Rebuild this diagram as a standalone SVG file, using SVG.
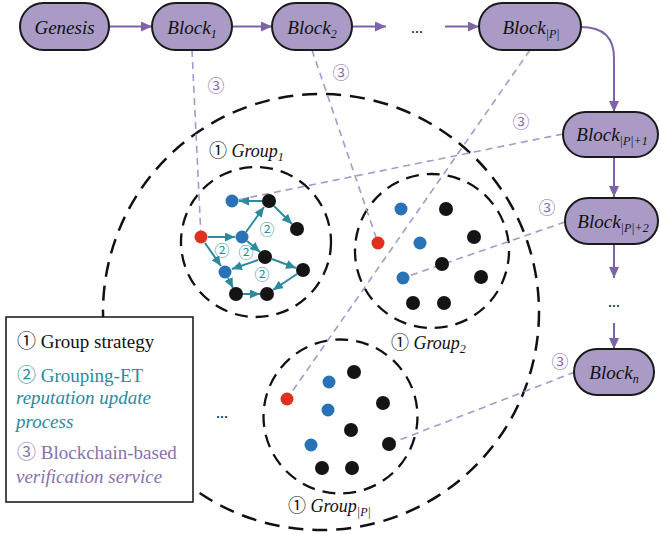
<svg xmlns="http://www.w3.org/2000/svg" width="661" height="534" viewBox="0 0 661 534">
<style>
.pill{fill:#a99bc5;stroke:#1a1a1a;stroke-width:2}
.bl{font-size:19px;fill:#111;text-anchor:middle;font-style:italic}
.sub{font-size:12px}
.pa{stroke:#7e63a8;stroke-width:2;fill:none}
.dash{stroke:#a898cc;stroke-width:1.6;stroke-dasharray:7,5;fill:none}
.big{stroke:#111;stroke-width:2.5;stroke-dasharray:15,9;fill:none}
.grp{stroke:#111;stroke-width:2.3;stroke-dasharray:13,8;fill:none}
.ta{stroke:#2c8a9c;stroke-width:2;fill:none}
.k{fill:#141414}
.b{fill:#2a72b8}
.r{fill:#e0301f}
.c3{font-size:17px;fill:#8a70b0;text-anchor:middle}
.c2{font-size:15px;fill:#2c8a9c;text-anchor:middle}
.gl{font-size:18px;fill:#111}
.lg{font-size:19px}
.dots{font-size:16px;fill:#111;text-anchor:middle}
</style>
<defs>
<marker id="ap" markerUnits="userSpaceOnUse" markerWidth="11" markerHeight="10" refX="11" refY="5" orient="auto"><path d="M0,0 L11,5 L0,10 z" fill="#7e63a8"/></marker>
<marker id="at" markerUnits="userSpaceOnUse" markerWidth="10" markerHeight="9" refX="10" refY="4.5" orient="auto"><path d="M0,0 L10,4.5 L0,9 z" fill="#2c8a9c"/></marker>
</defs>
<g font-family="'Liberation Serif', 'Noto Sans CJK SC', serif">

<g id="outer-circle"><circle class="big" cx="321" cy="312" r="218"/></g>
<g id="group1-circle"><circle class="grp" cx="256" cy="242" r="75"/></g>
<g id="group2-circle"><circle class="grp" cx="432" cy="251" r="77"/></g>
<g id="groupP-circle"><circle class="grp" cx="340.5" cy="416.5" r="77"/></g>

<g id="connectors">
  <line class="pa" x1="109" y1="26.5" x2="152" y2="26.5" marker-end="url(#ap)"/>
  <line class="pa" x1="232" y1="26.5" x2="272" y2="26.5" marker-end="url(#ap)"/>
  <line class="pa" x1="352" y1="26.5" x2="386" y2="26.5" marker-end="url(#ap)"/>
  <line class="pa" x1="445" y1="26.5" x2="479" y2="26.5" marker-end="url(#ap)"/>
  <path class="pa" d="M581,27 Q614,27 614,58 L614,112" marker-end="url(#ap)"/>
  <line class="pa" x1="614" y1="157" x2="614" y2="197" marker-end="url(#ap)"/>
  <line class="pa" x1="614" y1="244" x2="614" y2="278" marker-end="url(#ap)"/>
  <line class="pa" x1="614" y1="323" x2="614" y2="349" marker-end="url(#ap)"/>

  <line class="dash" x1="192" y1="50" x2="201" y2="237"/>
  <line class="dash" x1="312" y1="50" x2="378" y2="243"/>
  <line class="dash" x1="530" y1="50" x2="287" y2="399"/>
  <line class="dash" x1="563" y1="134" x2="232" y2="201"/>
  <line class="dash" x1="565" y1="222" x2="403" y2="278"/>
  <line class="dash" x1="575" y1="372" x2="389" y2="444"/>

  <line class="ta" x1="208" y1="237" x2="235" y2="237" marker-end="url(#at)"/>
  <line class="ta" x1="205" y1="243" x2="221" y2="266" marker-end="url(#at)"/>
  <line class="ta" x1="246" y1="232" x2="264" y2="207" marker-end="url(#at)"/>
  <line class="ta" x1="262" y1="201" x2="239" y2="201" marker-end="url(#at)"/>
  <line class="ta" x1="274" y1="206" x2="292" y2="224" marker-end="url(#at)"/>
  <line class="ta" x1="247" y1="241" x2="260" y2="252" marker-end="url(#at)"/>
  <line class="ta" x1="258" y1="260" x2="232" y2="269" marker-end="url(#at)"/>
  <line class="ta" x1="272" y1="259" x2="296" y2="268" marker-end="url(#at)"/>
  <line class="ta" x1="297" y1="274" x2="273" y2="290" marker-end="url(#at)"/>
  <line class="ta" x1="228" y1="278" x2="233" y2="288" marker-end="url(#at)"/>
  <line class="ta" x1="243" y1="294" x2="260" y2="294" marker-end="url(#at)"/>
</g>

<g id="group1">
  <circle class="b" cx="232" cy="201" r="6.5"/>
  <circle class="k" cx="269" cy="201" r="7"/>
  <circle class="k" cx="297" cy="229" r="7"/>
  <circle class="r" cx="201" cy="237" r="6.5"/>
  <circle class="b" cx="242" cy="237" r="6.5"/>
  <circle class="k" cx="265" cy="257" r="7"/>
  <circle class="b" cx="225" cy="272" r="6.5"/>
  <circle class="k" cx="303" cy="270" r="7"/>
  <circle class="k" cx="236" cy="294" r="7"/>
  <circle class="k" cx="267" cy="294" r="7"/>
  <text class="c2" x="267" y="235">②</text>
  <text class="c2" x="222" y="256">②</text>
  <text class="c2" x="246" y="258">②</text>
  <text class="c2" x="262" y="280">②</text>
  <text class="gl" x="209" y="157">① <tspan font-style="italic">Group<tspan class="sub" dy="4">1</tspan></tspan></text>
</g>

<g id="group2">
  <circle class="b" cx="401" cy="209" r="6.5"/>
  <circle class="k" cx="446" cy="209" r="7"/>
  <circle class="k" cx="474" cy="237" r="7"/>
  <circle class="r" cx="378" cy="243" r="6.5"/>
  <circle class="b" cx="420" cy="243" r="6.5"/>
  <circle class="k" cx="442" cy="264" r="7"/>
  <circle class="b" cx="403" cy="278" r="6.5"/>
  <circle class="k" cx="481" cy="277" r="7"/>
  <circle class="k" cx="413" cy="303" r="7"/>
  <circle class="k" cx="444" cy="303" r="7"/>
  <text class="gl" x="391" y="349">① <tspan font-style="italic">Group<tspan class="sub" dy="4">2</tspan></tspan></text>
</g>

<g id="groupP">
  <circle class="k" cx="354" cy="372" r="7"/>
  <circle class="b" cx="329" cy="382" r="6.5"/>
  <circle class="r" cx="287" cy="399" r="6.5"/>
  <circle class="k" cx="383" cy="403" r="7"/>
  <circle class="b" cx="328" cy="410" r="6.5"/>
  <circle class="k" cx="351" cy="430" r="7"/>
  <circle class="k" cx="389" cy="444" r="7"/>
  <circle class="b" cx="311" cy="445" r="6.5"/>
  <circle class="k" cx="322" cy="468" r="7"/>
  <circle class="k" cx="352" cy="468" r="7"/>
  <text class="gl" x="288" y="512">① <tspan font-style="italic">Group<tspan class="sub" dy="4">|P|</tspan></tspan></text>
</g>

<g id="labels">
  <text class="c3" x="216" y="92">③</text>
  <text class="c3" x="341" y="79">③</text>
  <text class="c3" x="521" y="128">③</text>
  <text class="c3" x="547" y="214">③</text>
  <text class="c3" x="560" y="368">③</text>
  <text class="dots" x="417" y="33">...</text>
  <text class="dots" x="614" y="307">...</text>
  <text class="dots" x="222" y="418" font-size="20">...</text>
</g>

<g id="genesis"><rect class="pill" x="20" y="3" width="89" height="47" rx="23.5"/><text class="bl" x="64.5" y="34">Genesis</text></g>
<g id="block1"><rect class="pill" x="152" y="3" width="80" height="47" rx="23.5"/><text class="bl" x="192" y="34">Block<tspan class="sub" dy="4">1</tspan></text></g>
<g id="block2"><rect class="pill" x="272" y="3" width="80" height="47" rx="23.5"/><text class="bl" x="312" y="34">Block<tspan class="sub" dy="4">2</tspan></text></g>
<g id="blockP"><rect class="pill" x="479" y="3" width="102" height="47" rx="23.5"/><text class="bl" x="531" y="34">Block<tspan class="sub" dy="4">|P|</tspan></text></g>
<g id="blockP1"><rect class="pill" x="563" y="112" width="95" height="45" rx="22.5"/><text class="bl" x="612" y="141">Block<tspan class="sub" dy="4">|P|+1</tspan></text></g>
<g id="blockP2"><rect class="pill" x="565" y="198" width="93" height="46" rx="23"/><text class="bl" x="613" y="228">Block<tspan class="sub" dy="4">|P|+2</tspan></text></g>
<g id="blockn"><rect class="pill" x="574" y="349" width="80" height="46" rx="23"/><text class="bl" x="614" y="379">Block<tspan class="sub" dy="4">n</tspan></text></g>

<g id="legend">
  <rect x="6" y="317" width="187" height="185" fill="#fff" stroke="#111" stroke-width="1.5"/>
  <text class="lg" x="17" y="348" fill="#111">① Group strategy</text>
  <text class="lg" x="17" y="382" fill="#2c8a9c">② Grouping-ET</text>
  <text class="lg" x="16" y="404" fill="#2c8a9c" font-style="italic">reputation update</text>
  <text class="lg" x="16" y="428" fill="#2c8a9c" font-style="italic">process</text>
  <text class="lg" x="17" y="459" fill="#8a70b0">③ Blockchain-based</text>
  <text class="lg" x="16" y="483" fill="#8a70b0" font-style="italic">verification service</text>
</g>
</g>
</svg>
